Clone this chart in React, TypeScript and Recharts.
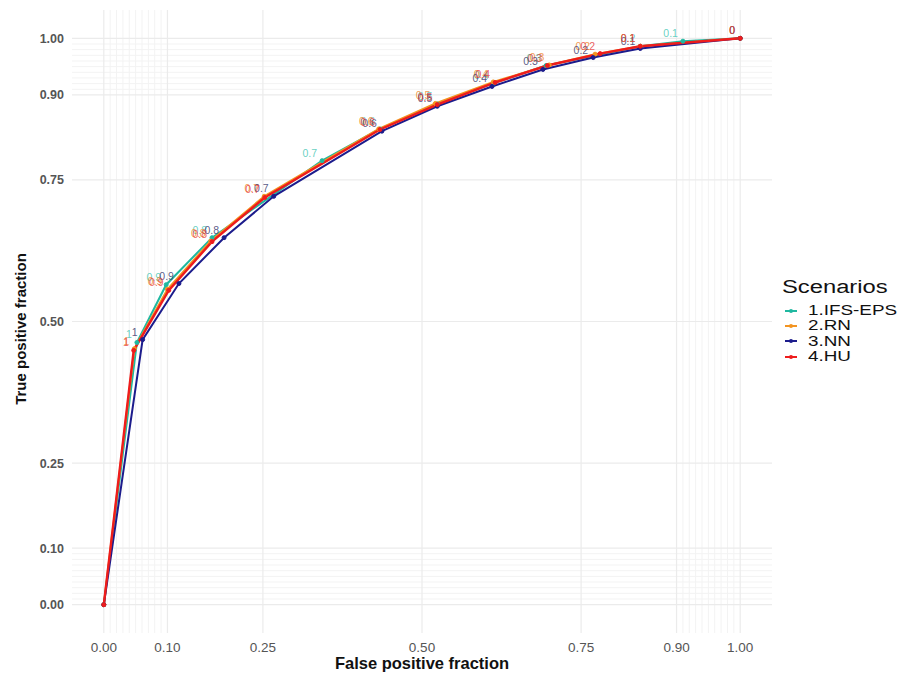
import React from 'react';
import { LineChart, Line, XAxis, YAxis, ReferenceLine, LabelList } from 'recharts';

// cutoff thresholds labelled along each ROC curve (first point is the origin, unlabelled)
const cutoffs = [null, 1, 0.9, 0.8, 0.7, 0.6, 0.5, 0.4, 0.3, 0.2, 0.1, 0];

const fpfIfs = [0, 0.052, 0.098, 0.17, 0.343, 0.434, 0.524, 0.613, 0.695, 0.843, 0.91, 1];
const tpfIfs = [0, 0.463, 0.565, 0.648, 0.784, 0.84, 0.884, 0.921, 0.952, 0.986, 0.995, 1];

const fpfRn = [0, 0.048, 0.1, 0.168, 0.252, 0.432, 0.521, 0.612, 0.7, 0.772, 0.843, 1];
const tpfRn = [0, 0.452, 0.557, 0.642, 0.721, 0.84, 0.885, 0.923, 0.953, 0.972, 0.986, 1];

const fpfNn = [0, 0.061, 0.118, 0.189, 0.267, 0.437, 0.524, 0.61, 0.69, 0.769, 0.843, 1];
const tpfNn = [0, 0.468, 0.567, 0.648, 0.721, 0.836, 0.88, 0.915, 0.945, 0.966, 0.982, 1];

const fpfHu = [0, 0.047, 0.102, 0.17, 0.253, 0.434, 0.524, 0.615, 0.697, 0.78, 0.843, 1];
const tpfHu = [0, 0.449, 0.555, 0.641, 0.719, 0.839, 0.883, 0.922, 0.952, 0.973, 0.986, 1];

const axisTicks = [0, 0.1, 0.25, 0.5, 0.75, 0.9, 1];
const minorBreaks = [
  0.01, 0.02, 0.03, 0.04, 0.05, 0.06, 0.07, 0.08, 0.09,
  0.91, 0.92, 0.93, 0.94, 0.95, 0.96, 0.97, 0.98, 0.99,
];

const FONT = '"Liberation Sans", Arial, sans-serif';

const toRows = (fpf: number[], tpf: number[]) =>
  fpf.map((x, i) => ({ fpf: x, tpf: tpf[i], cut: cutoffs[i] }));

const series = [
  { name: '1.IFS-EPS', color: '#1fb8a0', labelColor: '#4cc8b6', width: 2, data: toRows(fpfIfs, tpfIfs) },
  { name: '2.RN', color: '#f39421', labelColor: '#f08a30', width: 2, data: toRows(fpfRn, tpfRn) },
  { name: '3.NN', color: '#1c1c8c', labelColor: '#3c3c70', width: 2, data: toRows(fpfNn, tpfNn) },
  { name: '4.HU', color: '#ee1c1c', labelColor: '#e84444', width: 2.4, data: toRows(fpfHu, tpfHu) },
];

const cutLabel = (color: string) => (props: any) => {
  const { x, y, value } = props;
  if (value === null || value === undefined) return null;
  return (
    <text
      x={x - 5}
      y={y - 4}
      textAnchor="end"
      fontSize={10.5}
      fontFamily={FONT}
      fill={color}
      fillOpacity={0.85}
    >
      {String(value)}
    </text>
  );
};

const YTick = (props: any) => {
  const { x, y, payload } = props;
  return (
    <text x={x} y={y} dy={4.5} textAnchor="end" fontSize={12.5} fontWeight="bold" fontFamily={FONT} fill="#555">
      {payload.value.toFixed(2)}
    </text>
  );
};

const XTick = (props: any) => {
  const { x, y, payload } = props;
  return (
    <text x={x} y={y} dy={11} textAnchor="middle" fontSize={13.5} fontFamily={FONT} fill="#555">
      {payload.value.toFixed(2)}
    </text>
  );
};

export default function App() {
  return (
    <div style={{ position: 'absolute', left: 0, top: 0, width: 905, height: 675, background: '#fff', fontFamily: FONT }}>
      <LineChart width={905} height={675} margin={{ top: 10, right: 133, bottom: 0, left: 0 }}>
        <XAxis
          type="number"
          dataKey="fpf"
          domain={[-0.05, 1.05]}
          ticks={axisTicks}
          axisLine={false}
          tickLine={false}
          tickSize={0}
          tickMargin={8}
          height={42}
          tick={<XTick />}
          allowDuplicatedCategory={false}
        />
        <YAxis
          type="number"
          dataKey="tpf"
          domain={[-0.05, 1.05]}
          ticks={axisTicks}
          axisLine={false}
          tickLine={false}
          tickSize={0}
          tickMargin={8}
          width={72}
          tick={<YTick />}
        />
        {minorBreaks.map((v) => (
          <ReferenceLine key={`mx-${v}`} x={v} stroke="#f3f3f3" strokeWidth={1} />
        ))}
        {minorBreaks.map((v) => (
          <ReferenceLine key={`my-${v}`} y={v} stroke="#f3f3f3" strokeWidth={1} />
        ))}
        {axisTicks.map((v) => (
          <ReferenceLine key={`gx-${v}`} x={v} stroke="#ebebeb" strokeWidth={1.2} />
        ))}
        {axisTicks.map((v) => (
          <ReferenceLine key={`gy-${v}`} y={v} stroke="#ebebeb" strokeWidth={1.2} />
        ))}
        {series.map((s) => (
          <Line
            key={s.name}
            data={s.data}
            dataKey="tpf"
            name={s.name}
            type="linear"
            stroke={s.color}
            strokeWidth={s.width}
            dot={{ r: 2, fill: s.color, stroke: s.color, strokeWidth: 1 }}
            isAnimationActive={false}
          >
            <LabelList dataKey="cut" content={cutLabel(s.labelColor)} />
          </Line>
        ))}
      </LineChart>

      <div
        style={{
          position: 'absolute',
          left: 20,
          top: 329,
          transform: 'translate(-50%, -50%) rotate(-90deg)',
          fontSize: 15,
          fontWeight: 'bold',
          whiteSpace: 'nowrap',
          color: '#111',
        }}
      >
        True positive fraction
      </div>
      <div
        style={{
          position: 'absolute',
          left: 422,
          top: 663,
          transform: 'translate(-50%, -50%)',
          fontSize: 16.5,
          fontWeight: 'bold',
          whiteSpace: 'nowrap',
          color: '#111',
        }}
      >
        False positive fraction
      </div>

      <div style={{ position: 'absolute', left: 782, top: 277 }}>
        <div
          style={{
            fontSize: 18,
            color: '#111',
            marginBottom: 5,
            transform: 'scaleX(1.32)',
            transformOrigin: 'left center',
            whiteSpace: 'nowrap',
          }}
        >
          Scenarios
        </div>
        {series.map((s) => (
          <div key={s.name} style={{ display: 'flex', alignItems: 'center', height: 15.3 }}>
            <svg width={26} height={12}>
              <line x1={3} y1={6} x2={15} y2={6} stroke={s.color} strokeWidth={2} />
              <circle cx={9} cy={6} r={2} fill={s.color} />
            </svg>
            <span
              style={{
                fontSize: 14.5,
                color: '#111',
                lineHeight: '15px',
                whiteSpace: 'nowrap',
                display: 'inline-block',
                transform: 'scaleX(1.3)',
                transformOrigin: 'left center',
              }}
            >
              {s.name}
            </span>
          </div>
        ))}
      </div>
    </div>
  );
}
